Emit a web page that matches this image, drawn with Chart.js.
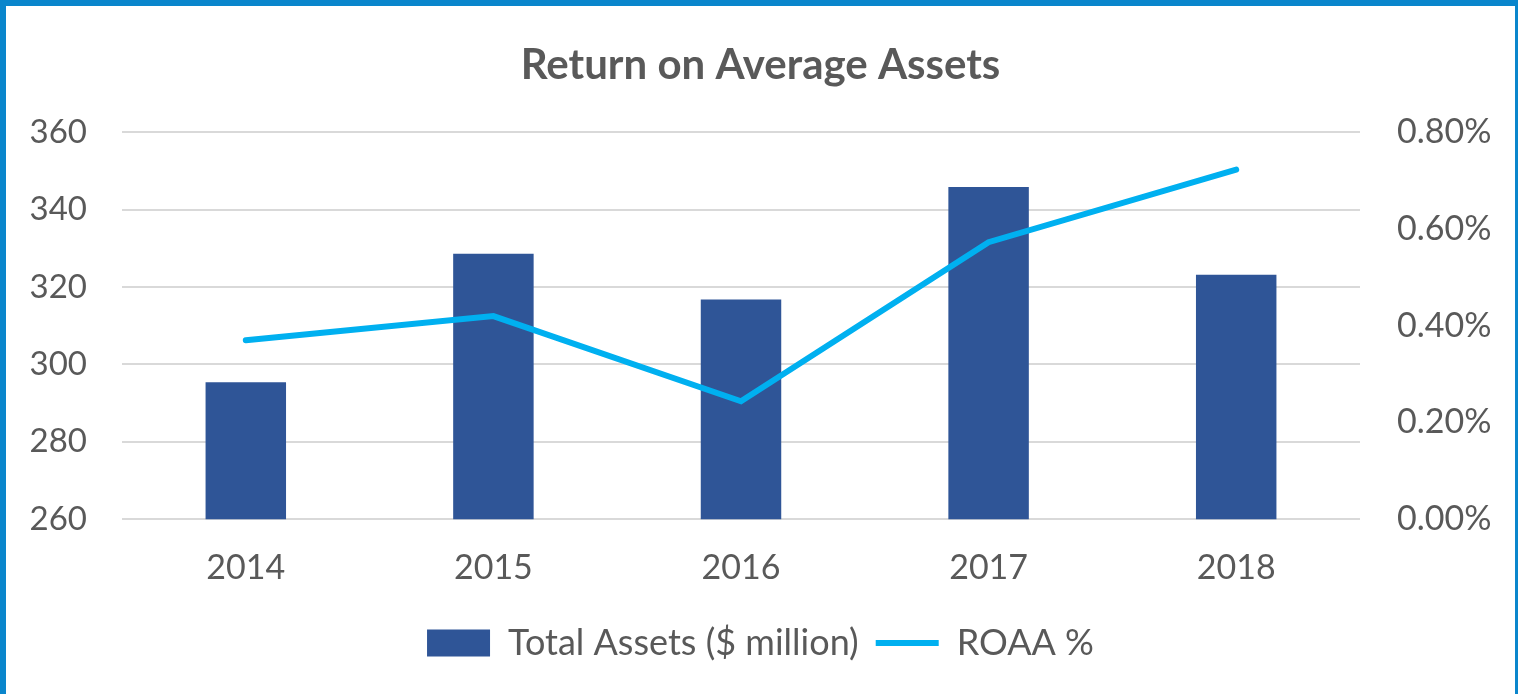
<!DOCTYPE html>
<html>
<head>
<meta charset="utf-8">
<script src="https://cdn.jsdelivr.net/npm/chart.js@4.4.1/dist/chart.umd.min.js"></script>
<style>
  html, body { margin: 0; padding: 0; background: #fff; }
  #frame {
    width: 1518px; height: 694px; box-sizing: border-box;
    border-top: 6px solid #0a86cc; border-left: 6px solid #0a86cc; border-right: 3px solid #0a86cc;
    position: relative; overflow: hidden;
  }
  #chart { display: block; }
</style>
</head>
<body>
<div id="frame"><canvas id="chart" width="1509" height="688"></canvas></div>
<script>
const years = ['2014', '2015', '2016', '2017', '2018'];
const totalAssets = [295.4, 328.6, 316.8, 345.9, 323.2];
const roaa = [0.37, 0.42, 0.244, 0.573, 0.723];

const gray = '#595959';
const fontFamily = 'Lato, "Open Sans", sans-serif';

new Chart(document.getElementById('chart').getContext('2d'), {
    data: {
        labels: years,
        datasets: [{
            type: 'line',
            label: 'ROAA %',
            data: roaa,
            yAxisID: 'y1',
            borderColor: '#00b0f0',
            backgroundColor: '#00b0f0',
            borderWidth: 6,
            borderCapStyle: 'round',
            pointRadius: 0,
            pointStyle: 'line',
            tension: 0,
            order: 0
        }, {
            type: 'bar',
            label: 'Total Assets ($ million)',
            data: totalAssets,
            yAxisID: 'y',
            backgroundColor: '#2f5597',
            pointStyle: 'rect',
            categoryPercentage: 1,
            barPercentage: 0.325,
            order: 1
        }]
    },
    options: {
        responsive: false,
        animation: false,
        layout: { padding: { left: 0, right: 0, top: 34, bottom: 23 } },
        plugins: {
            title: {
                display: true,
                text: 'Return on Average Assets',
                color: gray,
                font: { family: fontFamily, size: 42, weight: 'bold' },
                padding: { top: 0, bottom: 42 }
            },
            legend: {
                position: 'bottom',
                reverse: true,
                labels: {
                    color: gray,
                    font: { family: fontFamily, size: 36 },
                    usePointStyle: true,
                    pointStyleWidth: 63,
                    boxHeight: 27,
                    padding: 17
                }
            },
            tooltip: { enabled: false }
        },
        scales: {
            x: {
                grid: { display: false },
                border: { display: false },
                ticks: { color: gray, font: { family: fontFamily, size: 34 }, padding: 20 }
            },
            y: {
                position: 'left',
                min: 260, max: 360,
                afterFit: s => { s.width = 116; },
                ticks: { stepSize: 20, color: gray, font: { family: fontFamily, size: 33 }, padding: 35 },
                grid: { color: '#d9d9d9', lineWidth: 2, drawTicks: false },
                border: { display: false }
            },
            y1: {
                position: 'right',
                min: 0, max: 0.8,
                afterFit: s => { s.width = 155; },
                ticks: {
                    stepSize: 0.2, color: gray, font: { family: fontFamily, size: 34 }, padding: 37,
                    callback: v => v.toFixed(2) + '%'
                },
                grid: { drawOnChartArea: false, drawTicks: false },
                border: { display: false }
            }
        }
    }
});
</script>
</body>
</html>
